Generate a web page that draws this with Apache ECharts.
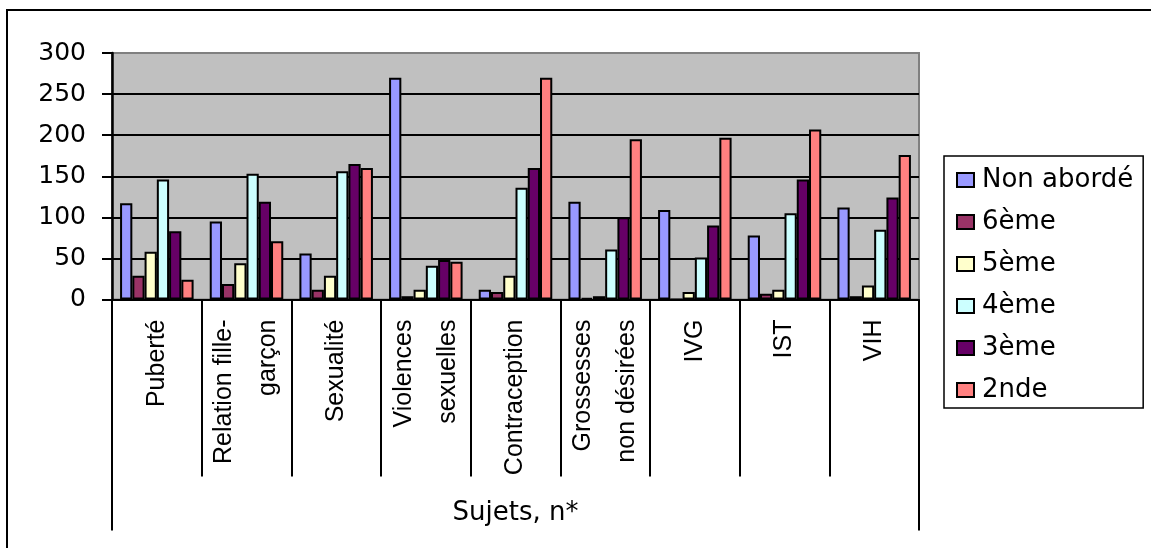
<!DOCTYPE html>
<html>
<head>
<meta charset="utf-8">
<script src="https://cdn.jsdelivr.net/npm/echarts@6/dist/echarts.min.js"></script>
<style>
  html, body { margin: 0; padding: 0; background: #fff; }
  #chart { width: 1151px; height: 548px; }
</style>
</head>
<body>
<div id="chart"></div>
<script>
const categories = ['Puberté', 'Relation fille-\ngarçon', 'Sexualité', 'Violences\nsexuelles', 'Contraception', 'Grossesses\nnon désirées', 'IVG', 'IST', 'VIH'];
const seriesNames = ['Non abordé', '6ème', '5ème', '4ème', '3ème', '2nde'];
const nonAborde = [117, 95, 56, 270, 12, 119, 109, 78, 112];
const sixieme   = [29, 19, 12, 4, 9, 2, 0, 7, 4];
const cinquieme = [58, 44, 29, 12, 29, 4, 9, 12, 17];
const quatrieme = [146, 153, 156, 41, 136, 61, 51, 105, 85];
const troisieme = [83, 119, 165, 48, 160, 100, 90, 146, 124];
const seconde   = [24, 71, 160, 46, 270, 195, 197, 207, 176];
const axisTitle = ['Sujets, n*'];
const yTicks = { min: 0, max: 300, interval: 50 };

const colors = ['#9999FF', '#993366', '#FFFFCC', '#CCFFFF', '#660066', '#FF8080'];
const values = [nonAborde, sixieme, cinquieme, quatrieme, troisieme, seconde];

const chart = echarts.init(document.getElementById('chart'), null, { renderer: 'canvas' });
const wide = 'DejaVu Sans, sans-serif';
const arial = 'Liberation Sans, Arial, sans-serif';

chart.setOption({
  animation: false,
  backgroundColor: '#ffffff',
  graphic: [{
    type: 'rect', silent: true, z: 100,
    shape: { x: 7, y: 10, width: 1300, height: 700 },
    style: { fill: 'none', stroke: '#000', lineWidth: 2 }
  }],
  grid: {
    left: 112, right: 232, top: 53, bottom: 248.5,
    show: true, backgroundColor: '#C0C0C0', borderColor: '#808080', borderWidth: 2
  },
  legend: {
    orient: 'vertical', left: 944, top: 156,
    data: seriesNames,
    backgroundColor: '#fff', borderColor: '#000', borderWidth: 1.5,
    padding: [10, 10, 4, 12],
    itemWidth: 17, itemHeight: 14, itemGap: 14,
    icon: 'rect',
    itemStyle: { borderColor: '#000', borderWidth: 2 },
    textStyle: { fontFamily: wide, fontSize: 26, color: '#000', lineHeight: 28, padding: [0, 0, 0, 3] }
  },
  xAxis: [{
    type: 'category', data: categories, position: 'bottom',
    axisLine: { show: true, lineStyle: { color: '#000', width: 2 } },
    axisTick: { show: true, length: 177, alignWithLabel: false, lineStyle: { color: '#000', width: 2 } },
    axisLabel: {
      rotate: 90, margin: 20, interval: 0,
      fontFamily: arial, fontSize: 25, color: '#000', lineHeight: 44
    },
    splitLine: { show: false }
  }, {
    type: 'category', data: axisTitle, position: 'bottom',
    axisLine: { show: false },
    axisTick: { show: true, length: 231, alignWithLabel: false, lineStyle: { color: '#000', width: 2 } },
    axisLabel: { margin: 201, fontFamily: wide, fontSize: 26, color: '#000' },
    splitLine: { show: false }
  }],
  yAxis: {
    type: 'value', min: yTicks.min, max: yTicks.max, interval: yTicks.interval,
    axisLine: { show: true, lineStyle: { color: '#000', width: 2.5 } },
    axisTick: { show: true, length: 10, lineStyle: { color: '#000', width: 2 } },
    axisLabel: { margin: 26, fontFamily: wide, fontSize: 25, color: '#000' },
    splitLine: { show: true, showMaxLine: false, lineStyle: { color: '#000', width: 2 } }
  },
  series: seriesNames.map((name, i) => ({
    name, type: 'bar', xAxisIndex: 0,
    data: values[i],
    barGap: '0%', barCategoryGap: '18%',
    itemStyle: { color: colors[i], borderColor: '#000', borderWidth: 2 }
  }))
});
</script>
</body>
</html>
